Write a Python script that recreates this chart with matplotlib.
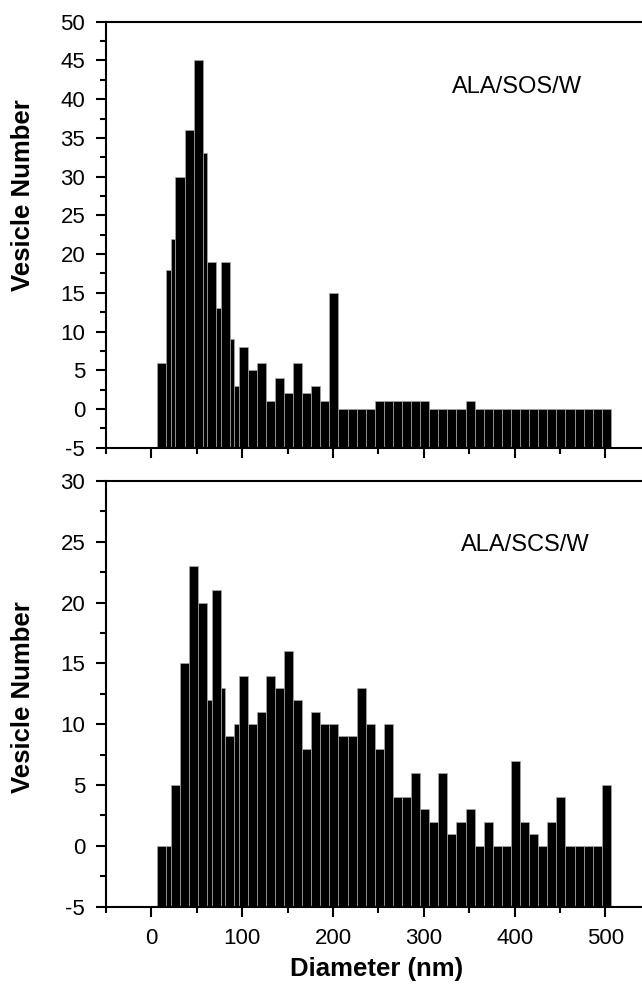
import numpy as np
import matplotlib
matplotlib.use('Agg')
import matplotlib.pyplot as plt
from matplotlib.ticker import MultipleLocator

plt.rcParams['font.family'] = ['Liberation Sans', 'DejaVu Sans']
plt.rcParams['axes.unicode_minus'] = False

# bin edges (nm): a few odd-sized bins below 100 nm,
# then regular 10 nm bins up to ~500 nm
regular_edges = list(np.arange(96, 507, 10))

sos_edges = [6.5, 16.5, 21.5, 26.5, 36.5, 46.5, 56.5, 61.5, 71.5, 76.5, 86.5, 91.5] + regular_edges
sos_counts = [6, 18, 22, 30, 36, 45, 33, 19, 13, 19, 9, 3,
              8, 5, 6, 1, 4, 2, 6, 2, 3, 1,
              15, 0, 0, 0, 0, 1, 1, 1, 1, 1,
              1, 0, 0, 0, 0, 1, 0, 0, 0, 0,
              0, 0, 0, 0, 0, 0, 0, 0, 0, 0, 0]

scs_edges = [6.5, 16, 21.5, 31.5, 41.5, 51.5, 61.5, 66.5, 76.5, 81.5, 91.5] + regular_edges
scs_counts = [0, 0, 5, 15, 23, 20, 12, 21, 13, 9, 10,
              14, 10, 11, 14, 13, 16, 12, 8, 11, 10,
              10, 9, 9, 13, 10, 8, 10, 4, 4, 6,
              3, 2, 6, 1, 2, 3, 0, 2, 0, 0,
              7, 2, 1, 0, 2, 4, 0, 0, 0, 0,
              5]

panels = [
    (sos_edges, sos_counts, 50),
    (scs_edges, scs_counts, 30),
]

fig = plt.figure(figsize=(6.42, 9.89), dpi=100)
W, H = 642, 989
ax_w = 595 * 0.908 / W
ax1 = fig.add_axes([106 / W, 1 - 447.7 / H, ax_w, 426 / H])
ax2 = fig.add_axes([106 / W, 1 - 906.7 / H, ax_w, 425.7 / H])

for ax, (edges, counts, ymax) in zip([ax1, ax2], panels):
    edges = np.array(edges, dtype=float)
    counts = np.array(counts, dtype=float)
    # bars start from the bottom of the axis (-5)
    ax.bar(edges[:-1], counts + 5, width=np.diff(edges), bottom=-5, align='edge',
           color='black', edgecolor='#a8a8a8', linewidth=0.5)
    ax.set_xlim(-50, 545)
    ax.set_ylim(-5, ymax)
    ax.xaxis.set_major_locator(MultipleLocator(100))
    ax.xaxis.set_minor_locator(MultipleLocator(50))
    ax.yaxis.set_major_locator(MultipleLocator(5))
    ax.yaxis.set_minor_locator(MultipleLocator(2.5))
    ax.spines['right'].set_visible(False)
    for s in ['left', 'bottom', 'top']:
        ax.spines[s].set_linewidth(1.5)
    ax.tick_params(which='major', direction='out', length=7, width=1.5, labelsize=16, pad=8)
    ax.tick_params(which='minor', direction='out', length=4.5, width=1.5)
    ax.tick_params(top=False, right=False)

ax1.tick_params(labelbottom=False)
ax1.text(331, 41.6, 'ALA/SOS/W', fontsize=17, va='center', ha='left')
ax2.text(341, 24.7, 'ALA/SCS/W', fontsize=17, va='center', ha='left')

fig.text(23 / W, 1 - 195 / H, 'Vesicle Number', rotation=90, ha='center', va='center',
         fontsize=18.5, fontweight='bold')
fig.text(23 / W, 1 - 697 / H, 'Vesicle Number', rotation=90, ha='center', va='center',
         fontsize=18.5, fontweight='bold')
fig.text(377 / W, 1 - 969 / H, 'Diameter (nm)', ha='center', va='center',
         fontsize=18.5, fontweight='bold')

fig.savefig('out.png', dpi=100)
